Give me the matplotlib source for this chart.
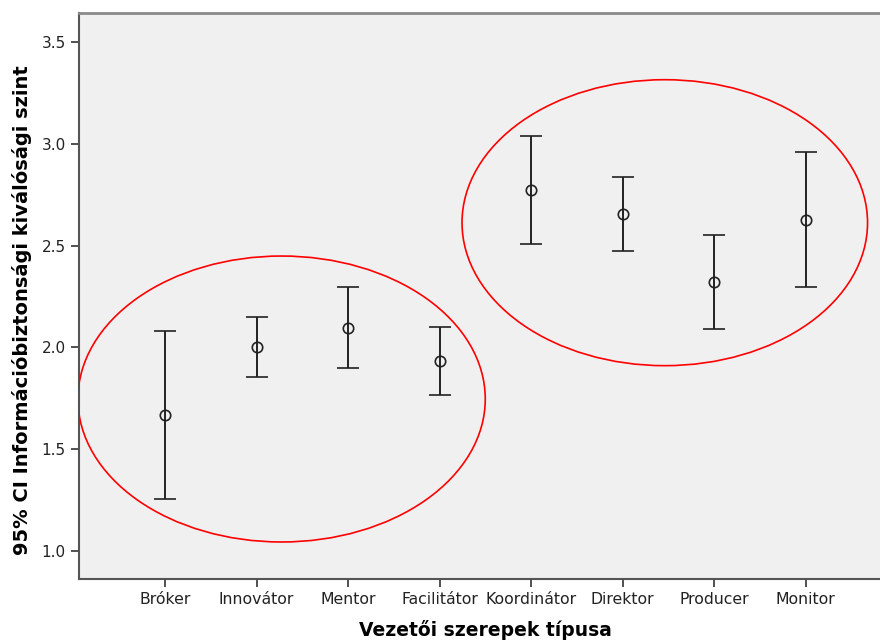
import matplotlib
matplotlib.use("Agg")
import matplotlib.pyplot as plt
from matplotlib.patches import Ellipse
import numpy as np

# 95% CI of the information security excellence level per leadership role
roles = ["Bróker", "Innovátor", "Mentor", "Facilitátor",
         "Koordinátor", "Direktor", "Producer", "Monitor"]
mean = [1.667, 2.000, 2.096, 1.934, 2.772, 2.654, 2.323, 2.627]
ci_low = [1.253, 1.855, 1.897, 1.765, 2.508, 2.475, 2.091, 2.296]
ci_high = [2.082, 2.147, 2.296, 2.101, 3.037, 2.836, 2.552, 2.959]

# highlighted groups: (x centre, y centre, width, height) in data units
groups = [(1.273, 1.746, 4.45, 1.406),
          (5.459, 2.613, 4.43, 1.406)]

fig = plt.figure(figsize=(8.8, 6.41), dpi=100)
ax = fig.add_axes([79 / 880, 62 / 641, 801 / 880, 566 / 641])
ax.set_facecolor("#f0f0f0")

x = np.arange(len(roles))
m = np.array(mean)
yerr = [m - np.array(ci_low), np.array(ci_high) - m]
ax.errorbar(x, m, yerr=yerr, fmt="o", mfc="none", mec="#222222", ms=7.5,
            mew=1.2, ecolor="#222222", elinewidth=1.4, capsize=8,
            capthick=1.4, zorder=3)

for cx, cy, w, h in groups:
    ax.add_patch(Ellipse((cx, cy), w, h, fill=False, ec="#ff0000", lw=1.2,
                         zorder=4))

ax.set_xlim(-0.94, 7.81)
ax.set_ylim(0.861, 3.644)
ax.set_xticks(x)
ax.set_xticklabels(roles, fontsize=11.3)
ax.set_yticks([1.0, 1.5, 2.0, 2.5, 3.0, 3.5])
ax.set_yticklabels(["1.0", "1.5", "2.0", "2.5", "3.0", "3.5"], fontsize=11)
ax.tick_params(axis="both", direction="out", length=6, width=1.2,
               color="#333333", labelcolor="#222222")

for side in ["left", "bottom"]:
    ax.spines[side].set_color("#555555")
    ax.spines[side].set_linewidth(1.5)
ax.spines["top"].set_color("#8a8a8a")
ax.spines["top"].set_linewidth(2)
ax.spines["right"].set_visible(False)

ax.set_ylabel("95% CI Információbiztonsági kiválósági szint",
              fontsize=14, fontweight="bold")
ax.yaxis.set_label_coords(-0.059, 0.475)
ax.set_xlabel("Vezetői szerepek típusa", fontsize=13.5, fontweight="bold")
ax.xaxis.set_label_coords(0.508, -0.073)

fig.savefig("out.png", dpi=100)
